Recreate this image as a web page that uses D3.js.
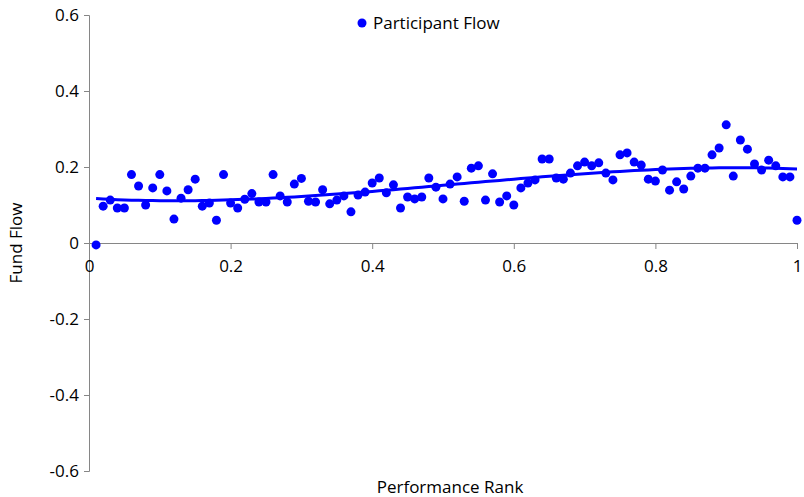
<!DOCTYPE html>
<html>
  <head>
    <meta charset="utf-8">
    <script src="https://d3js.org/d3.v7.min.js"></script>
    <style>
      body { margin: 0px; background: #fff; }
      text { font-family: 'Open Sans', sans-serif; fill: #000; }
      .axis path, .axis line { stroke: #868686; }
    </style>
  </head>
  <body>
    <svg width="804" height="497"></svg>
    <script>
      const ranks = d3.range(1, 101).map(i => i / 100);
      const flows = [
        -0.005, 0.097, 0.113, 0.092, 0.092, 0.18, 0.15, 0.10, 0.145, 0.18,
        0.137, 0.063, 0.118, 0.14, 0.168, 0.097, 0.105, 0.06, 0.18, 0.105,
        0.092, 0.115, 0.13, 0.108, 0.108, 0.18, 0.124, 0.108, 0.155, 0.17,
        0.11, 0.108, 0.14, 0.103, 0.113, 0.124, 0.082, 0.126, 0.134, 0.158,
        0.171, 0.132, 0.153, 0.092, 0.121, 0.116, 0.121, 0.171, 0.147, 0.116,
        0.155, 0.174, 0.11, 0.197, 0.203, 0.113, 0.182, 0.108, 0.124, 0.10,
        0.145, 0.158, 0.166, 0.221, 0.221, 0.171, 0.168, 0.184, 0.203, 0.213,
        0.203, 0.211, 0.184, 0.166, 0.232, 0.237, 0.213, 0.205, 0.168, 0.163,
        0.192, 0.139, 0.161, 0.142, 0.176, 0.197, 0.197, 0.232, 0.25, 0.311,
        0.176, 0.271, 0.247, 0.208, 0.192, 0.218, 0.203, 0.174, 0.174, 0.06
      ];
      const xTicks = [0, 0.2, 0.4, 0.6, 0.8, 1];
      const yTicks = [-0.6, -0.4, -0.2, 0, 0.2, 0.4, 0.6];
      const seriesName = 'Participant Flow';

      const svg = d3.select('svg');
      const x = d3.scaleLinear().domain([0, 1]).range([89, 797]);
      const y = d3.scaleLinear().domain([-0.6, 0.6]).range([471, 15]);

      // cubic least-squares trend line
      const fitPoly = (xs, ys, order) => {
        const n = order + 1;
        const A = d3.range(n).map(() => new Array(n + 1).fill(0));
        xs.forEach((xv, k) => {
          for (let r = 0; r < n; r++) {
            for (let c = 0; c < n; c++) A[r][c] += Math.pow(xv, r + c);
            A[r][n] += ys[k] * Math.pow(xv, r);
          }
        });
        for (let i = 0; i < n; i++) {
          let p = i;
          for (let r = i + 1; r < n; r++) if (Math.abs(A[r][i]) > Math.abs(A[p][i])) p = r;
          [A[i], A[p]] = [A[p], A[i]];
          for (let r = 0; r < n; r++) {
            if (r === i) continue;
            const f = A[r][i] / A[i][i];
            for (let c = i; c <= n; c++) A[r][c] -= f * A[i][c];
          }
        }
        const coef = A.map((row, i) => row[n] / row[i]);
        return xv => coef.reduce((s, c, i) => s + c * Math.pow(xv, i), 0);
      };
      const trend = fitPoly(ranks, flows, 3);

      const yAxis = svg.append('g')
          .attr('class', 'axis')
          .attr('transform', `translate(${x(0)},0)`)
          .call(d3.axisLeft(y).tickValues(yTicks).tickSize(5).tickFormat(d => String(d)));
      yAxis.selectAll('text').attr('font-size', 17).attr('dx', '-2px');

      const xAxis = svg.append('g')
          .attr('class', 'axis')
          .attr('transform', `translate(0,${y(0)})`)
          .call(d3.axisBottom(x).tickValues(xTicks).tickSize(6).tickFormat(d => String(d)));
      xAxis.selectAll('text').attr('font-size', 17).attr('dy', '1.2em');
      svg.selectAll('.axis .domain').attr('stroke', '#868686');
      svg.selectAll('.axis text').attr('fill', '#000').style('font-family', "'Open Sans', sans-serif");

      svg.selectAll('circle.pt').data(ranks)
        .enter().append('circle')
          .attr('class', 'pt')
          .attr('cx', d => x(d))
          .attr('cy', (d, i) => y(flows[i]))
          .attr('r', 4.5)
          .attr('fill', '#0000ff');

      const line = d3.line().x(d => x(d)).y(d => y(trend(d)));
      svg.append('path')
          .datum(ranks)
          .attr('d', line)
          .attr('fill', 'none')
          .attr('stroke', '#0000ff')
          .attr('stroke-width', 3);

      svg.append('text')
          .attr('transform', `translate(22,${y(0)}) rotate(-90)`)
          .attr('text-anchor', 'middle')
          .attr('font-size', 17)
          .text('Fund Flow');

      svg.append('text')
          .attr('x', 450)
          .attr('y', 493)
          .attr('text-anchor', 'middle')
          .attr('font-size', 17)
          .text('Performance Rank');

      const legend = svg.append('g').attr('transform', 'translate(362,23)');
      legend.append('circle').attr('r', 4.5).attr('fill', '#0000ff');
      legend.append('text')
          .attr('x', 11)
          .attr('dy', '0.35em')
          .attr('font-size', 17)
          .text(seriesName);
    </script>
  </body>
</html>
